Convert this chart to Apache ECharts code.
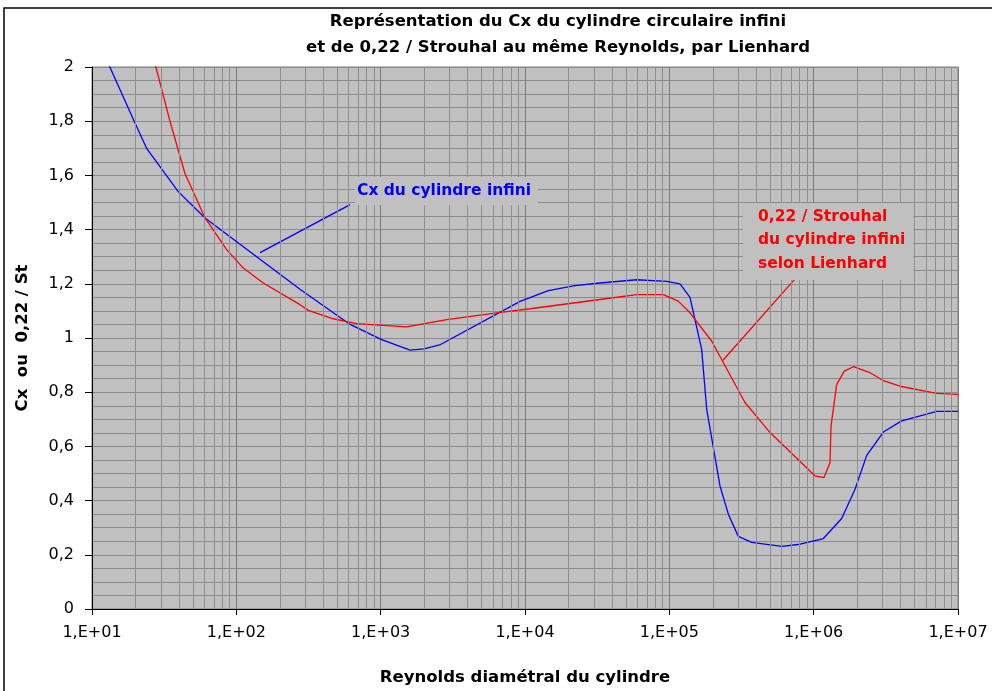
<!DOCTYPE html>
<html>
<head>
<meta charset="utf-8">
<script src="https://cdn.jsdelivr.net/npm/echarts@6/dist/echarts.min.js"></script>
<style>
  html, body { margin: 0; padding: 0; background: #fff; }
  #main { width: 992px; height: 691px; }
</style>
</head>
<body>
<div id="main"></div>
<script>
// Cx du cylindre infini (Reynolds, Cx)
var cxRe  = [10, 13.3, 19.6, 23.9, 39.6, 60.7, 276, 614, 1016, 1600, 2000, 2600, 9250, 14500, 22200, 33100, 59400, 95900, 118600, 139000, 167500, 181500, 224400, 256300, 300600, 372200, 601000, 805000, 1167000, 1564000, 1934000, 2332000, 3040000, 4075000, 7118000, 10000000];
var cxVal = [2.15, 2.0, 1.80, 1.70, 1.54, 1.443, 1.18, 1.05, 0.994, 0.955, 0.96, 0.976, 1.135, 1.175, 1.193, 1.203, 1.215, 1.209, 1.20, 1.15, 0.958, 0.737, 0.454, 0.35, 0.268, 0.246, 0.231, 0.239, 0.26, 0.334, 0.442, 0.567, 0.653, 0.694, 0.729, 0.729];

// 0,22 / Strouhal selon Lienhard
var stRe  = [22, 27.7, 34.7, 44, 60.7, 85.7, 111.7, 153.7, 276, 315, 470, 682, 1514, 2870, 6370, 10840, 33100, 59400, 90800, 115300, 139000, 196700, 335000, 499000, 1023000, 1180000, 1298000, 1319000, 1444000, 1631000, 1883000, 2456000, 3040000, 3966000, 7118000, 10000000];
var stVal = [2.2, 2.0, 1.80, 1.608, 1.443, 1.326, 1.258, 1.203, 1.123, 1.102, 1.071, 1.053, 1.041, 1.068, 1.093, 1.108, 1.142, 1.160, 1.160, 1.136, 1.093, 0.988, 0.761, 0.651, 0.491, 0.485, 0.540, 0.675, 0.829, 0.878, 0.894, 0.872, 0.843, 0.822, 0.796, 0.792];

// traits de renvoi des étiquettes
var cxLeader = [[614, 1.492], [146, 1.315]];
var stLeader = [[743000, 1.218], [234500, 0.917]];

var xTickLabels = ['1,E+01', '1,E+02', '1,E+03', '1,E+04', '1,E+05', '1,E+06', '1,E+07'];
var yTickLabels = ['0', '0,2', '0,4', '0,6', '0,8', '1', '1,2', '1,4', '1,6', '1,8', '2'];

function pairs(xs, ys) {
    var out = [];
    for (var i = 0; i < xs.length; i++) out.push([xs[i], ys[i]]);
    return out;
}

// lignes secondaires du papier log (2..9 dans chaque décade)
var minorX = [];
for (var d = 1; d < 7; d++) {
    for (var k = 2; k <= 9; k++) minorX.push({ xAxis: k * Math.pow(10, d) });
}

var FONT = 'DejaVu Sans';
var myChart = echarts.init(document.getElementById('main'));

var option = {
    animation: false,
    backgroundColor: '#ffffff',
    textStyle: { fontFamily: FONT },
    title: {
        text: 'Représentation du Cx du cylindre circulaire infini\net de 0,22 / Strouhal au même Reynolds, par Lienhard',
        left: 553,
        top: 4,
        textAlign: 'center',
        textStyle: { fontFamily: FONT, fontSize: 16.5, fontWeight: 'bold', color: '#000', lineHeight: 26 }
    },
    grid: {
        left: 92, right: 34, top: 67, bottom: 81,
        show: true,
        backgroundColor: '#c0c0c0',
        borderColor: '#808080',
        borderWidth: 1
    },
    xAxis: {
        type: 'log',
        logBase: 10,
        min: 10,
        max: 10000000,
        name: 'Reynolds diamétral du cylindre',
        nameLocation: 'middle',
        nameGap: 60,
        nameTextStyle: { fontFamily: FONT, fontSize: 16.5, fontWeight: 'bold', color: '#000' },
        axisLine: { lineStyle: { color: '#000', width: 1 } },
        axisTick: { show: true, length: 6, lineStyle: { color: '#000' } },
        axisLabel: {
            margin: 16,
            fontSize: 16,
            color: '#000',
            formatter: function (v) {
                return xTickLabels[Math.round(Math.log10(v)) - 1];
            }
        },
        splitLine: { show: true, lineStyle: { color: '#7a7a7a', width: 1 } }
    },
    yAxis: {
        type: 'value',
        min: 0,
        max: 2,
        interval: 0.2,
        name: 'Cx  ou  0,22 / St',
        nameLocation: 'middle',
        nameRotate: 90,
        nameGap: 61,
        nameTextStyle: { fontFamily: FONT, fontSize: 16.5, fontWeight: 'bold', color: '#000' },
        axisLine: { show: true, lineStyle: { color: '#000', width: 1 } },
        axisTick: { show: true, length: 7, lineStyle: { color: '#000' } },
        axisLabel: {
            margin: 18,
            fontSize: 16,
            color: '#000',
            formatter: function (v) {
                return yTickLabels[Math.round(v / 0.2)];
            }
        },
        splitLine: { show: true, lineStyle: { color: '#8a8a8a', width: 1 } },
        minorTick: { show: false, splitNumber: 4 },
        minorSplitLine: { show: true, lineStyle: { color: '#8a8a8a', width: 1 } }
    },
    series: [
        {
            // grille verticale secondaire
            type: 'line',
            data: [],
            z: 1,
            silent: true,
            markLine: {
                silent: true,
                symbol: ['none', 'none'],
                label: { show: false },
                lineStyle: { color: '#8f8f8f', width: 1, type: 'solid' },
                data: minorX
            }
        },
        {
            name: 'Cx',
            type: 'line',
            data: pairs(cxRe, cxVal),
            showSymbol: false,
            z: 3,
            lineStyle: { color: '#0000ff', width: 1.3 }
        },
        {
            name: '0,22 / St',
            type: 'line',
            data: pairs(stRe, stVal),
            showSymbol: false,
            z: 3,
            lineStyle: { color: '#ff0000', width: 1.3 }
        },
        {
            type: 'line',
            data: cxLeader,
            showSymbol: false,
            z: 3,
            lineStyle: { color: '#0000ff', width: 1.3 }
        },
        {
            type: 'line',
            data: stLeader,
            showSymbol: false,
            z: 3,
            lineStyle: { color: '#ff0000', width: 1.3 }
        }
    ],
    graphic: [
        {
            type: 'rect', z: 100,
            shape: { x: 4, y: 8, width: 1100, height: 720 },
            style: { fill: 'none', stroke: '#000', lineWidth: 1.5 }
        },
        {
            type: 'rect', z: 100,
            shape: { x: 355, y: 177, width: 183, height: 28 },
            style: { fill: '#c0c0c0' }
        },
        {
            type: 'text', z: 101,
            x: 357, y: 191,
            style: {
                text: 'Cx du cylindre infini',
                fill: '#0000ff',
                font: 'bold 15.5px "DejaVu Sans"',
                textVerticalAlign: 'middle'
            }
        },
        {
            type: 'rect', z: 100,
            shape: { x: 743, y: 203, width: 170, height: 77 },
            style: { fill: '#c0c0c0' }
        },
        {
            type: 'text', z: 101,
            x: 758, y: 205,
            style: {
                text: '0,22 / Strouhal\ndu cylindre infini\nselon Lienhard',
                fill: '#ff0000',
                font: 'bold 15.5px "DejaVu Sans"',
                lineHeight: 23.5
            }
        }
    ]
};

myChart.setOption(option);
</script>
</body>
</html>
